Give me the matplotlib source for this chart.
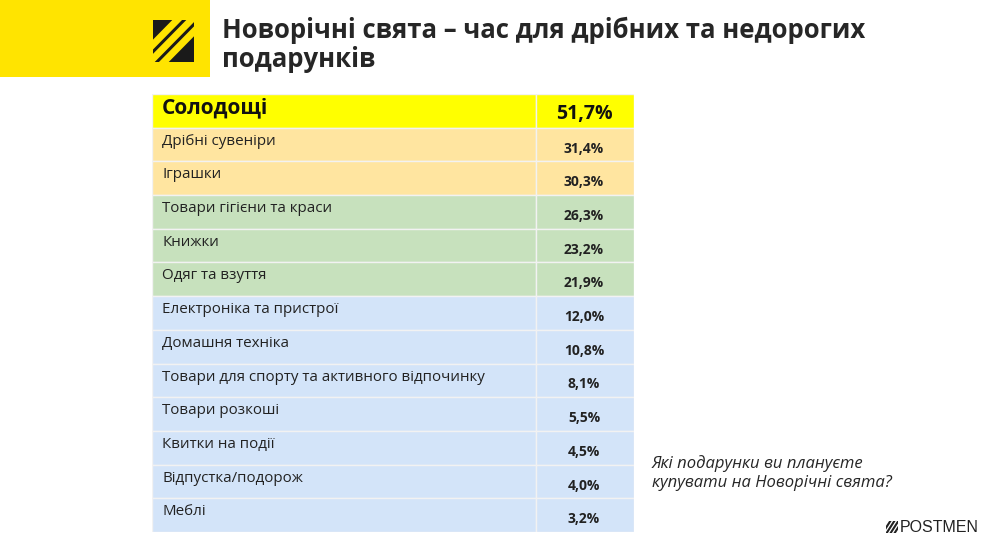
import matplotlib.pyplot as plt
import matplotlib.patches as mpatches

plt.rcParams['font.family'] = ['Open Sans', 'DejaVu Sans']

# data
categories = ['Солодощі', 'Дрібні сувеніри', 'Іграшки', 'Товари гігієни та краси',
              'Книжки', 'Одяг та взуття', 'Електроніка та пристрої', 'Домашня техніка',
              'Товари для спорту та активного відпочинку', 'Товари розкоші',
              'Квитки на події', 'Відпустка/подорож', 'Меблі']
values = [51.7, 31.4, 30.3, 26.3, 23.2, 21.9, 12.0, 10.8, 8.1, 5.5, 4.5, 4.0, 3.2]
groups = ['top', 'mid', 'mid', 'green', 'green', 'green',
          'blue', 'blue', 'blue', 'blue', 'blue', 'blue', 'blue']

title = 'Новорічні свята – час для дрібних та недорогих\nподарунків'
question = 'Які подарунки ви плануєте\nкупувати на Новорічні свята?'
brand = 'POSTMEN'

group_colors = {'top': '#FFFF00', 'mid': '#FFE5A0', 'green': '#C7E1BD', 'blue': '#D3E4F9'}
W, H = 988, 542

fig = plt.figure(figsize=(W / 100, H / 100), dpi=100)
fig.patch.set_facecolor('white')

# background / header axes in pixel coordinates
bg = fig.add_axes([0, 0, 1, 1])
bg.set_xlim(0, W)
bg.set_ylim(H, 0)
bg.axis('off')
bg.add_patch(mpatches.Rectangle((0, 0), 210, 77, color='#FFE400', lw=0))

# logo: black square with yellow diagonal stripes
logo = mpatches.Rectangle((153, 20), 41, 42, color='#1A1A1A', lw=0)
bg.add_patch(logo)
for off in (-17, -3, 11):
    ln, = bg.plot([153 + off - 10, 194 + off + 10], [72, 10], color='#FFE400', lw=5,
                  solid_capstyle='butt')
    ln.set_clip_path(logo)

bg.text(222, 45, title, fontsize=18.5, fontweight='bold', color='#262626',
        va='center', ha='left', linespacing=1.12)
bg.text(652, 473, question, fontsize=12, style='italic', color='#262626',
        va='center', ha='left', linespacing=1.2)

# small striped brand mark + name
mark = mpatches.Rectangle((886, 521), 12, 12, color='none', lw=0)
bg.add_patch(mark)
for off in (-4, 0, 4, 8):
    ln, = bg.plot([886 + off, 886 + off + 9], [534, 520], color='#222222', lw=1.5)
    ln.set_clip_path(mark)
bg.text(979, 527, brand, fontsize=11.5, color='#222222', va='center', ha='right',
        family=['Liberation Sans'])

# table axes
tx0, tx1, ty0, ty1 = 152, 634, 94, 532
col_w = 536 - tx0
ax = fig.add_axes([tx0 / W, 1 - ty1 / H, (tx1 - tx0) / W, (ty1 - ty0) / H])
n = len(categories)
ax.set_xlim(0, tx1 - tx0)
ax.set_ylim(n, 0)
ax.axis('off')

cols = [group_colors[g] for g in groups]
ypos = [i + 0.5 for i in range(n)]
ax.barh(ypos, col_w, left=0, height=1, color=cols, edgecolor='#F2F2F2', linewidth=1)
ax.barh(ypos, (tx1 - tx0) - col_w, left=col_w, height=1, color=cols,
        edgecolor='#F2F2F2', linewidth=1)

for i, (cat, v) in enumerate(zip(categories, values)):
    lab = f'{v:.1f}%'.replace('.', ',')
    if i == 0:
        ax.text(10, i + 0.42, cat, fontsize=15, fontweight='bold', color='#111111',
                va='center', ha='left')
        ax.text(col_w + 48, i + 0.58, lab, fontsize=14, fontweight='bold',
                color='#111111', va='center', ha='center')
    else:
        ax.text(10, i + 0.4, cat, fontsize=10.9, color='#222222', va='center', ha='left')
        ax.text(col_w + 48, i + 0.62, lab, fontsize=10, fontweight='bold',
                color='#222222', va='center', ha='center')

fig.savefig('out.png', dpi=100)
